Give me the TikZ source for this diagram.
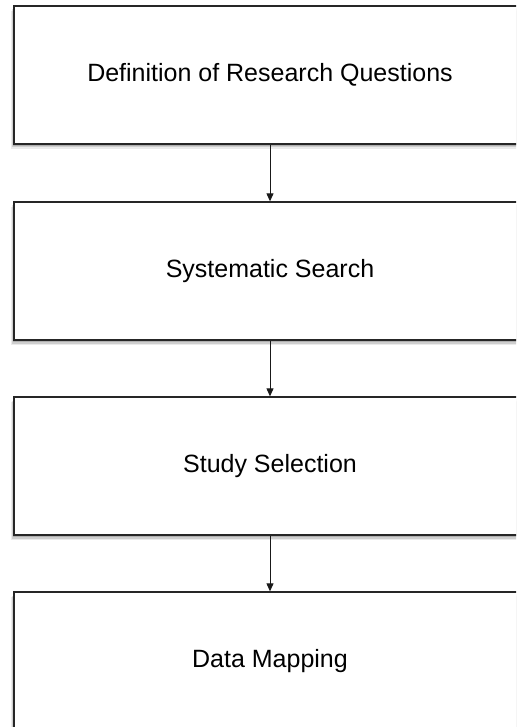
\documentclass[tikz,border=0pt]{standalone}
\usepackage{fontspec}
\setmainfont{Liberation Sans}
\usetikzlibrary{arrows.meta,shadows,positioning}
\begin{document}
\begin{tikzpicture}[x=1pt,y=1pt,
  stepbox/.style={draw=black!85, line width=1.3pt, fill=white, minimum width=512pt, minimum height=138pt, inner sep=0pt, font=\fontsize{25}{28}\selectfont,
    general shadow={shadow xshift=-3pt, shadow yshift=-5pt, opacity=0.08, fill=black},
    general shadow={shadow xshift=-2pt, shadow yshift=-3.5pt, opacity=0.12, fill=black},
    general shadow={shadow xshift=-1pt, shadow yshift=-2pt, opacity=0.15, fill=black}},
  conn/.style={draw=black!90, line width=1pt, -{Triangle[length=8pt,width=7pt]}}]
\useasboundingbox (0,0) rectangle (516,-727);
\begin{scope}
\clip (0,0) rectangle (516,-727);
\node[stepbox] (a) at (270,-75) {Definition of Research Questions};
\node[stepbox] (b) at (270,-271) {Systematic Search};
\node[stepbox] (c) at (270,-466) {Study Selection};
\node[stepbox] (d) at (270,-661) {Data Mapping};
\draw[conn] (a.south) -- (b.north);
\draw[conn] (b.south) -- (c.north);
\draw[conn] (c.south) -- (d.north);
\end{scope}
\end{tikzpicture}
\end{document}
